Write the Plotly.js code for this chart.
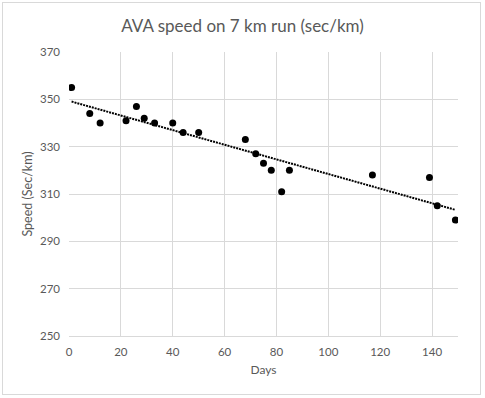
<!DOCTYPE html>
<html>
<head>
<meta charset="utf-8">
<script src="https://cdn.plot.ly/plotly-3.0.1.min.js"></script>
<style>
  html, body { margin: 0; padding: 0; background: #fff; }
  #wrap { position: relative; width: 485px; height: 398px; }
  #chart { position: absolute; left: 0; top: 0; width: 485px; height: 398px; }
  #frame { position: absolute; left: 2px; top: 2px; width: 477px; height: 391px;
           border: 1px solid #d9d9d9; pointer-events: none; }
</style>
</head>
<body>
<div id="wrap">
  <div id="chart"></div>
  <div id="frame"></div>
</div>
<script>
// Data
const days  = [1, 8, 12, 22, 26, 29, 33, 40, 44, 50, 68, 72, 75, 78, 82, 85, 117, 139, 142, 149];
const speed = [355, 344, 340, 341, 347, 342, 340, 340, 336, 336, 333, 327, 323, 320, 311, 320, 318, 317, 305, 299];
const xTicks = [0, 20, 40, 60, 80, 100, 120, 140];
const yTicks = [250, 270, 290, 310, 330, 350, 370];

// Linear trendline (least squares) computed from the data
const n = days.length;
const mx = days.reduce((a, b) => a + b, 0) / n;
const my = speed.reduce((a, b) => a + b, 0) / n;
let sxy = 0, sxx = 0;
for (let i = 0; i < n; i++) { sxy += (days[i] - mx) * (speed[i] - my); sxx += (days[i] - mx) ** 2; }
const slope = sxy / sxx;
const icpt = my - slope * mx;
const tx = [Math.min(...days), Math.max(...days)];
const ty = tx.map(v => icpt + slope * v);

const grey = '#595959';
const gridc = '#d9d9d9';
const font = 'Lato, Carlito, Calibri, sans-serif';

const traces = [
  { x: tx, y: ty, type: 'scatter', mode: 'lines',
    line: { color: '#000', width: 2, dash: '2px,1px' }, hoverinfo: 'skip', showlegend: false },
  { x: days, y: speed, type: 'scatter', mode: 'markers',
    marker: { color: '#000', size: 7 }, showlegend: false }
];

const layout = {
  width: 485, height: 398,
  margin: { l: 69, r: 27, t: 52, b: 62 },
  paper_bgcolor: '#fff', plot_bgcolor: '#fff',
  font: { family: font, color: grey, size: 12 },
  title: { text: 'AVA speed on 7 km run (sec/km)', font: { family: font, size: 17, color: grey },
           x: 0.5, xanchor: 'center', y: 0.935, yanchor: 'middle' },
  xaxis: { range: [0, 150], tickvals: xTicks, ticktext: xTicks.map(String),
           showgrid: true, gridcolor: gridc, gridwidth: 1, zeroline: false,
           showline: true, linecolor: gridc, linewidth: 1, ticks: '', ticklen: 0,
           ticklabelstandoff: 5,
           tickfont: { size: 11.5, color: grey }, fixedrange: true,
           title: { text: 'Days', font: { size: 12, color: grey }, standoff: 8 } },
  yaxis: { range: [250, 370], tickvals: yTicks, ticktext: yTicks.map(String),
           showgrid: true, gridcolor: gridc, gridwidth: 1, zeroline: false,
           showline: false, ticks: '', ticklen: 0,
           ticklabelstandoff: 8,
           tickfont: { size: 11.5, color: grey }, fixedrange: true,
           title: { text: 'Speed (Sec/km)', font: { size: 12.5, color: grey }, standoff: 4 } }
};

Plotly.newPlot('chart', traces, layout, { displayModeBar: false, staticPlot: true });
</script>
</body>
</html>
